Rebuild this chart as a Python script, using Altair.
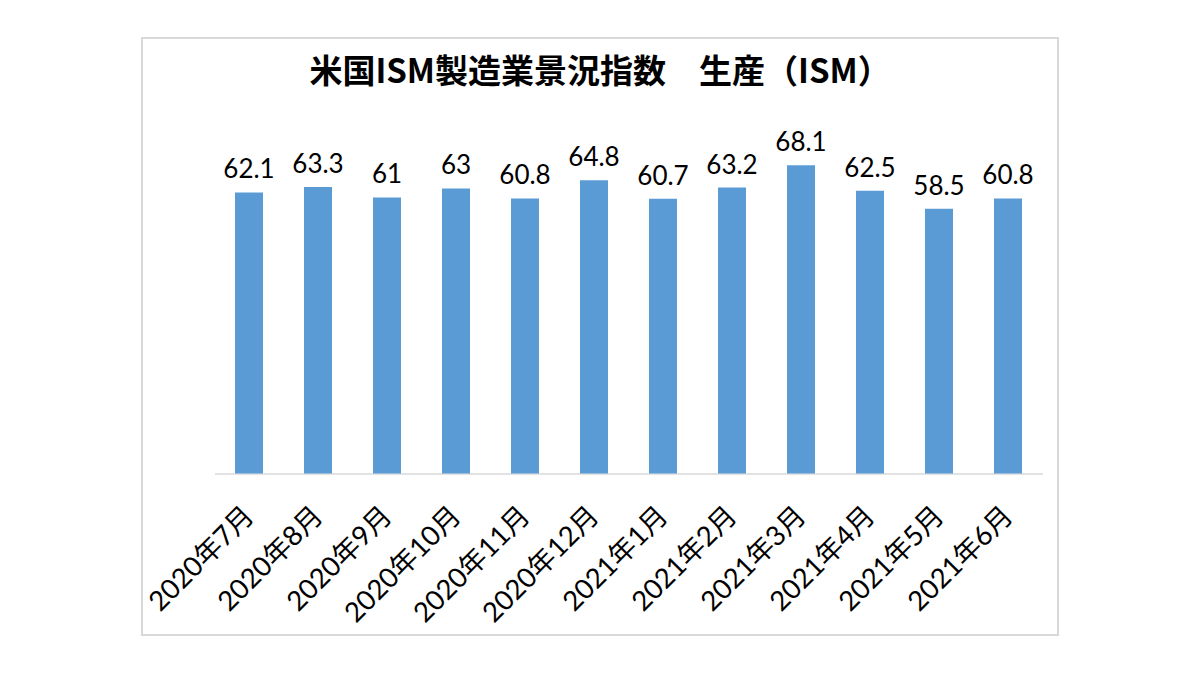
import altair as alt
import pandas as pd

months = ["2020年7月", "2020年8月", "2020年9月", "2020年10月", "2020年11月", "2020年12月",
          "2021年1月", "2021年2月", "2021年3月", "2021年4月", "2021年5月", "2021年6月"]
values = [62.1, 63.3, 61, 63, 60.8, 64.8, 60.7, 63.2, 68.1, 62.5, 58.5, 60.8]
labels = ["62.1", "63.3", "61", "63", "60.8", "64.8", "60.7", "63.2", "68.1", "62.5", "58.5", "60.8"]

df = pd.DataFrame({"month": months, "value": values, "label": labels})

W, H = 828, 362
x = alt.X("month:N", sort=months, title=None,
          scale=alt.Scale(paddingInner=0, paddingOuter=0),
          axis=alt.Axis(labelAngle=-45, labelAlign="right", labelBaseline="top",
                        labelFont="Lato, Noto Sans CJK JP", labelFontSize=27.5,
                        labelColor="#000000", labelPadding=28, labelOffset=-9,
                        ticks=False, domainColor="#D9D9D9", domainWidth=1.5,
                        labelOverlap=False))
y = alt.Y("value:Q", scale=alt.Scale(domain=[0, 80], nice=False), axis=None)

frame = alt.Chart(df).mark_rect(fill=None, stroke="#D9D9D9", strokeWidth=1.5, clip=False).encode(
    x=alt.value(-72.5), x2=alt.value(843.5), y=alt.value(-73.5), y2=alt.value(523.5)
)

bars = alt.Chart(df).mark_bar(size=28, color="#5B9BD5").encode(x=x, y=y)
text = alt.Chart(df).mark_text(font="Lato", fontSize=26, color="#000000", baseline="bottom", dy=-9).encode(
    x=x, y=y, text="label:N")

chart = alt.layer(frame, bars, text).properties(
    width=W, height=H,
    title=alt.TitleParams("米国ISM製造業景況指数　生産（ISM）", font="Noto Sans CJK JP",
                          fontSize=33, fontWeight="bold", color="#000000",
                          anchor="middle", dx=-28.5, dy=73, offset=20),
    autosize=alt.AutoSizeParams(type="none"),
    padding={"left": 206.5, "top": 103.5, "right": 140, "bottom": 180},
).configure_view(stroke=None)

chart.save("out.html", embed_options={"renderer": "svg", "actions": False})
